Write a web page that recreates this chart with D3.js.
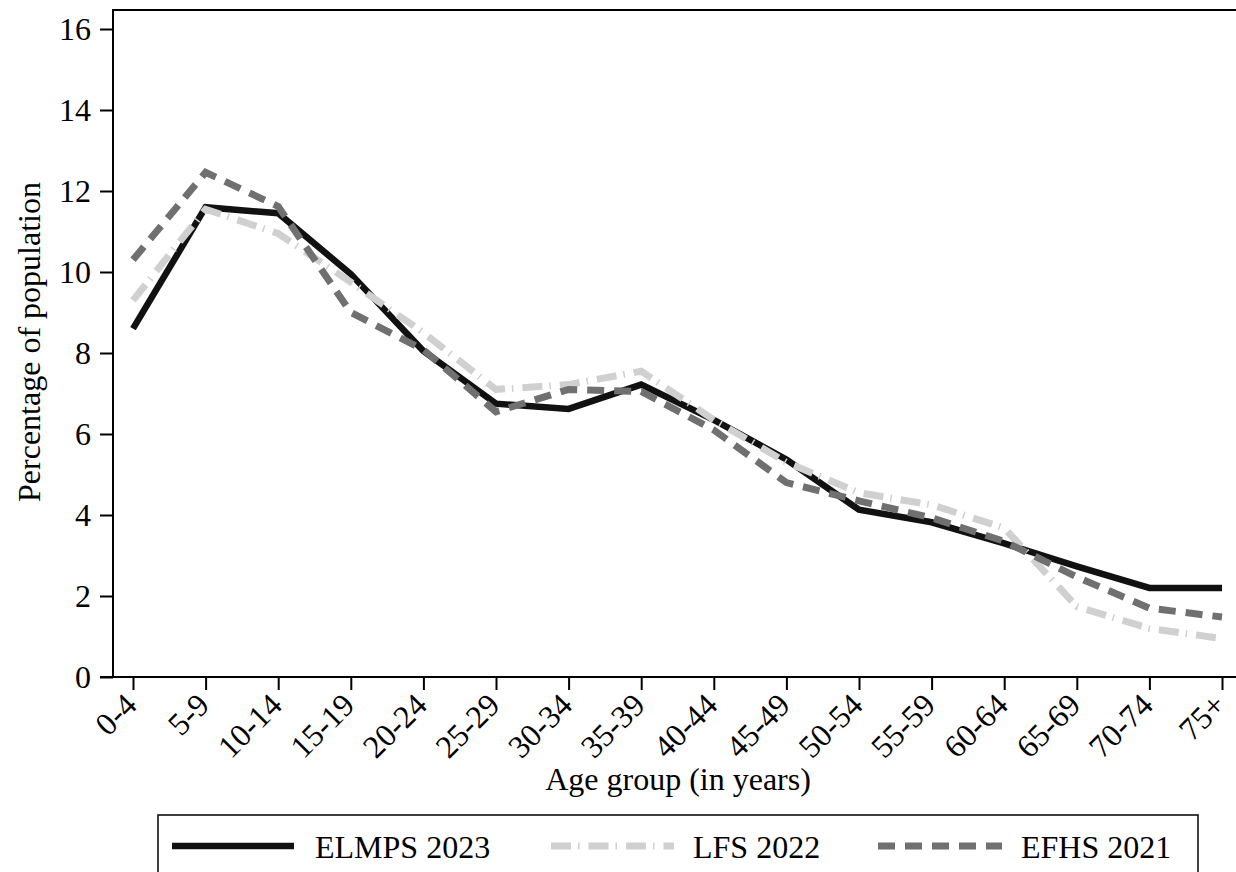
<!DOCTYPE html>
<html>
<head>
<meta charset="utf-8">
<script src="https://cdn.jsdelivr.net/npm/d3@7"></script>
<style>
  body { margin: 0; background: #fff; }
  svg { display: block; font-family: "Liberation Serif", "DejaVu Serif", serif; }
</style>
</head>
<body>
<div id="chart"></div>
<script>
// Age groups on the x axis
const ageGroups = ["0-4", "5-9", "10-14", "15-19", "20-24", "25-29", "30-34", "35-39",
  "40-44", "45-49", "50-54", "55-59", "60-64", "65-69", "70-74", "75+"];

// Percentage of population, by survey
const elmps2023 = [8.6, 11.6, 11.45, 9.95, 8.05, 6.75, 6.62, 7.22, 6.35, 5.37, 4.13, 3.82, 3.3, 2.73, 2.2, 2.2];
const lfs2022 = [9.3, 11.55, 10.95, 9.75, 8.5, 7.1, 7.22, 7.55, 6.35, 5.3, 4.55, 4.25, 3.68, 1.74, 1.2, 0.95];
const efhs2021 = [10.3, 12.46, 11.62, 9.0, 8.08, 6.55, 7.1, 7.05, 6.1, 4.8, 4.35, 3.93, 3.35, 2.47, 1.7, 1.48];

const yTicks = [0, 2, 4, 6, 8, 10, 12, 14, 16];
const seriesNames = ["ELMPS 2023", "LFS 2022", "EFHS 2021"];

const W = 1236, H = 872;
const plotLeft = 113, plotTop = 10, plotBottom = 677, plotRight = 1236;
const serif = "'Liberation Serif', 'DejaVu Serif', serif";

const svg = d3.select("#chart").append("svg")
  .attr("width", W)
  .attr("height", H);

// scales
const x = d3.scalePoint()
  .domain(ageGroups)
  .range([133, 1222]);

const y = d3.scaleLinear()
  .domain([0, 16])
  .range([plotBottom, 29]);

// series styles (Stata-like greys)
const styles = [
  { color: "#111111", width: 6.5, dash: null },
  { color: "#d0d0d0", width: 7, dash: "20,7,1.5,9" },
  { color: "#707070", width: 7, dash: "17,10" }
];
const seriesData = [elmps2023, lfs2022, efhs2021];

// frame: top border
svg.append("line")
  .attr("x1", plotLeft).attr("x2", plotRight)
  .attr("y1", plotTop).attr("y2", plotTop)
  .attr("stroke", "#000").attr("stroke-width", 2);

// y axis
const yAxis = svg.append("g")
  .attr("transform", `translate(${plotLeft},0)`)
  .call(d3.axisLeft(y).tickValues(yTicks).tickSize(13).tickPadding(9).tickSizeOuter(0))
  .attr("font-family", serif)
  .attr("font-size", 32);
yAxis.select(".domain").remove();
yAxis.append("line")
  .attr("x1", 0).attr("x2", 0)
  .attr("y1", plotTop - 1).attr("y2", plotBottom + 1)
  .attr("stroke", "#000").attr("stroke-width", 2);
yAxis.selectAll(".tick line").attr("stroke", "#000").attr("stroke-width", 2);
yAxis.selectAll(".tick text")
  .attr("fill", "#000")
  .attr("dy", "0.34em");

// x axis
const xAxis = svg.append("g")
  .attr("transform", `translate(0,${plotBottom})`)
  .call(d3.axisBottom(x).tickSize(13).tickSizeOuter(0))
  .attr("font-family", serif)
  .attr("font-size", 32);
xAxis.select(".domain").remove();
xAxis.append("line")
  .attr("x1", plotLeft - 13).attr("x2", plotRight)
  .attr("y1", 0).attr("y2", 0)
  .attr("stroke", "#000").attr("stroke-width", 2);
xAxis.selectAll(".tick line").attr("stroke", "#000").attr("stroke-width", 2);
xAxis.selectAll(".tick text")
  .attr("fill", "#000")
  .style("text-anchor", "end")
  .attr("y", 0)
  .attr("dy", "0")
  .attr("transform", "translate(5,30) rotate(-45)");

// axis titles
svg.append("text")
  .attr("x", 678)
  .attr("y", 790)
  .attr("text-anchor", "middle")
  .style("font-size", "32px")
  .text("Age group (in years)");

svg.append("text")
  .attr("transform", "translate(40,342) rotate(-90)")
  .attr("text-anchor", "middle")
  .style("font-size", "32px")
  .text("Percentage of population");

// lines
const line = d3.line()
  .x((d, i) => x(ageGroups[i]))
  .y(d => y(d));

seriesData.forEach((vals, k) => {
  svg.append("path")
    .datum(vals)
    .attr("fill", "none")
    .attr("stroke", styles[k].color)
    .attr("stroke-width", styles[k].width)
    .attr("stroke-linejoin", "miter")
    .attr("stroke-dasharray", styles[k].dash)
    .attr("d", line);
});

// legend
const legend = svg.append("g");
legend.append("rect")
  .attr("x", 158).attr("y", 815)
  .attr("width", 1040).attr("height", 80)
  .attr("fill", "#fff")
  .attr("stroke", "#000").attr("stroke-width", 1.5);

const legendPos = [
  { x1: 172, x2: 294, tx: 315 },
  { x1: 551, x2: 674, tx: 693 },
  { x1: 878, x2: 1002, tx: 1021 }
];

seriesNames.forEach((name, k) => {
  legend.append("line")
    .attr("x1", legendPos[k].x1).attr("x2", legendPos[k].x2)
    .attr("y1", 846).attr("y2", 846)
    .attr("stroke", styles[k].color)
    .attr("stroke-width", styles[k].width)
    .attr("stroke-dasharray", styles[k].dash);
  legend.append("text")
    .attr("x", legendPos[k].tx)
    .attr("y", 858)
    .style("font-size", "32px")
    .text(name);
});
</script>
</body>
</html>
